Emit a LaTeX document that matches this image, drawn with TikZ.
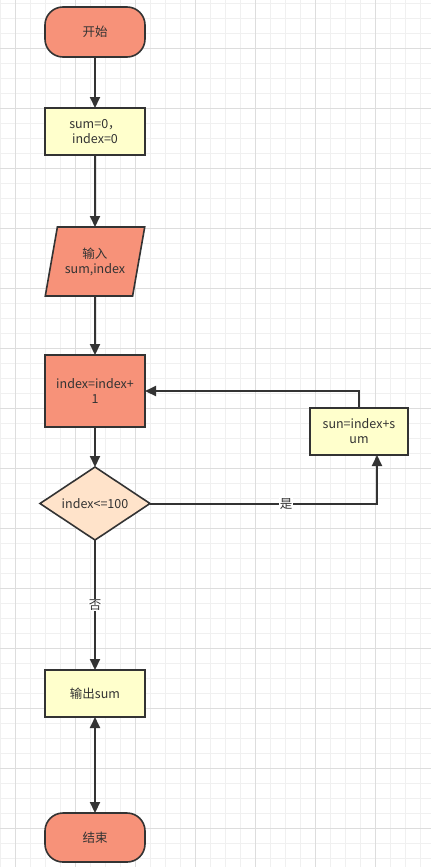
\documentclass[tikz,border=0pt]{standalone}
\usepackage{fontspec}
\setmainfont{Noto Sans CJK SC}
\usepackage{xcolor}
\usetikzlibrary{arrows.meta,positioning,shapes.geometric}
\definecolor{FSalmon}{HTML}{F79279}
\definecolor{FYellow}{HTML}{FFFFCC}
\definecolor{FPeach}{HTML}{FFE3CA}
\definecolor{FLine}{HTML}{333333}
\definecolor{GMinor}{HTML}{F0F0F0}
\definecolor{GMajor}{HTML}{DDDDDD}

\begin{document}
\begin{tikzpicture}[
  x=1pt,y=1pt,
  base/.style={draw=FLine,line width=1.6pt,text=FLine,font=\fontsize{12.5pt}{15pt}\selectfont,
    align=center,inner sep=2pt,outer sep=0pt},
  term/.style={base,fill=FSalmon,rounded corners=18pt,minimum width=100pt,minimum height=50pt},
  proc/.style={base,fill=FYellow,minimum width=100pt,minimum height=47pt},
  calc/.style={base,fill=FSalmon,minimum width=100pt,minimum height=72pt},
  io/.style={base,fill=FSalmon,trapezium,trapezium left angle=72,trapezium right angle=108,
    trapezium stretches=true,minimum width=100pt,minimum height=69pt},
  cond/.style={base,fill=FPeach,diamond,aspect=1.5,inner sep=0pt,minimum width=110pt,minimum height=73pt},
  a/.style={-{Triangle[length=11pt,width=10pt]},line width=2pt,color=FLine},
  lbl/.style={fill=white,inner sep=1pt,text=FLine,font=\fontsize{12.5pt}{15pt}\selectfont}
]
  \useasboundingbox (0,-867) rectangle (431,0);
  % background grid
  \fill[white] (0,-867) rectangle (431,0);
  \begin{scope}[shift={(15,-48)}]
    \draw[GMinor,line width=0.6pt,step=15pt] (-15,-819) grid (416,48);
    \draw[GMajor,line width=0.8pt,step=60pt] (-15,-819) grid (416,48);
  \end{scope}

  \node[term] (start) at (95,-32) {开始};
  \node[proc,below=51pt of start] (init) {sum=0，\\ index=0};
  \node[io,below=72pt of init] (input) {输入\\sum,index};
  \node[calc,below=59pt of input] (incr) {index=index+\\1};
  \node[cond,below=40pt of incr] (check) {index<=100};
  \node[proc,below=130pt of check] (output) {输出sum};
  \node[term,below=96pt of output,minimum height=49pt] (stop) {结束};
  \node[proc,minimum width=98pt] (acc) at (359,-431.5) {sun=index+s\\um};

  \foreach \x/\y in {start/init,init/input,input/incr,incr/check}
    {\draw[a] (\x) -- (\y);}
  \draw[a] (check) -- node[lbl,pos=0.5] {否} (output);
  \draw[a,{Triangle[length=11pt,width=10pt]}-{Triangle[length=11pt,width=10pt]}] (output) -- (stop);
  \draw[a] (check.east) -| node[lbl,pos=0.3] {是} ([xshift=18pt]acc.south);
  \draw[a] (acc.north) |- (incr.east);
\end{tikzpicture}
\end{document}
